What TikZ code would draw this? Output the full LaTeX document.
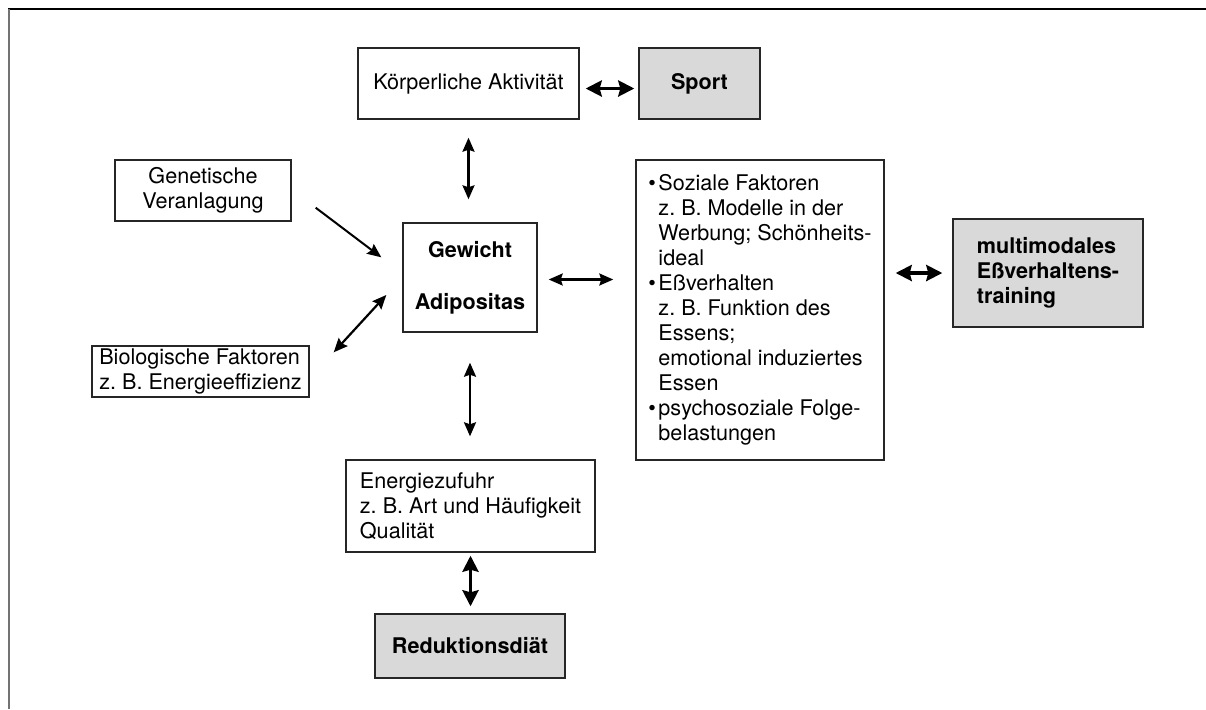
\documentclass[tikz,border=0pt]{standalone}
\usepackage{fontspec}
\setmainfont{TeX Gyre Heros}
\usetikzlibrary{arrows.meta}
\definecolor{kastengrau}{gray}{0.85}
\frenchspacing
\newcommand\punkt{\makebox[5pt][l]{\textbullet}}
\newcommand\einzug{\hspace*{5pt}}
\tikzset{
  kasten/.style={draw=black!85, line width=0.7pt, inner sep=0pt,
    font=\fontsize{10.8}{12.5}\selectfont},
  mitte/.style={kasten, align=center},
  links/.style={kasten, align=left},
  fett/.style={font=\bfseries\fontsize{10.8}{12.5}\selectfont},
  grau/.style={fill=kastengrau},
  pfeil/.style={line width=1.1pt,
    {Stealth[length=7pt,width=6pt,inset=1pt]}-{Stealth[length=7pt,width=6pt,inset=1pt]}},
  dickpfeil/.style={line width=1.8pt,
    {Stealth[length=8pt,width=8pt,inset=1pt]}-{Stealth[length=8pt,width=8pt,inset=1pt]}},
  einpfeil/.style={line width=1pt, -{Stealth[length=7pt,width=6pt,inset=1pt]}}
}
\begin{document}
\begin{tikzpicture}[x=0.5pt,y=-0.5pt]
\useasboundingbox (0,0) rectangle (1206,709);
% Rahmen
\draw[line width=1pt] (8,9)--(1206,9);
\draw[black!55, line width=1.2pt] (9,9)--(9,709);
% Kaesten
\node[mitte, minimum width=110.5pt, minimum height=35.5pt] (koerper) at (468.5,83.5) {Körperliche Aktivität};
\node[mitte, grau, fett, minimum width=60.5pt, minimum height=35.5pt] (sport) at (699.5,83.5) {Sport};
\node[mitte, minimum width=88pt, minimum height=30.5pt] (genetik) at (203,190.5) {Genetische\\Veranlagung};
\node[links, minimum width=108.5pt, minimum height=25.5pt] (bio) at (200.5,371.5) {Biologische Faktoren\\z. B. Energieeffizienz};
\node[mitte, fett, minimum width=67pt, minimum height=54.5pt] (gewicht) at (470,277.5) {Gewicht\\[13.5pt]Adipositas};
\node[links, minimum width=124pt, minimum height=150pt] (faktoren) at (760,310)
  {\punkt Soziale Faktoren\\\einzug z. B. Modelle in der\\\einzug Werbung; Schönheits-\\\einzug ideal\\
   \punkt Eßverhalten\\\einzug z. B. Funktion des\\\einzug Essens;\\\einzug emotional induziertes\\\einzug Essen\\
   \punkt psychosoziale Folge-\\\einzug belastungen};
\node[links, grau, fett, minimum width=95pt, minimum height=54pt] (training) at (1048,273) {multimodales\\Eßverhaltens-\\training};
\node[links, minimum width=124.5pt, minimum height=46pt] (energie) at (470.5,506) {Energiezufuhr\\z. B. Art und Häufigkeit\\Qualität};
\node[mitte, grau, fett, minimum width=95pt, minimum height=32pt] (diaet) at (470,646) {Reduktionsdiät};
% Pfeile
\draw[dickpfeil, shorten <=3pt, shorten >=2pt] ([yshift=-2.5pt]koerper.east) -- ([yshift=-2.5pt]sport.west);
\draw[pfeil, shorten <=9pt, shorten >=11.5pt] (koerper.south) -- (koerper.south |- gewicht.north);
\draw[einpfeil] ([shift={(24,-14)}]genetik.south east) -- ([shift={(-21,35)}]gewicht.north west);
\draw[pfeil] ([shift={(24,7)}]bio.north east) -- ([shift={(-16,17.5)}]gewicht.west);
\draw[pfeil, shorten <=5.5pt, shorten >=11pt] ([yshift=-1pt]gewicht.east) -- ([yshift=-1pt]gewicht.east -| faktoren.west);
\draw[dickpfeil, shorten <=5.5pt, shorten >=5pt] (training.west -| faktoren.east) -- (training.west);
\draw[pfeil, shorten <=15pt, shorten >=11.5pt] (gewicht.south) -- (gewicht.south |- energie.north);
\draw[dickpfeil, shorten <=1.5pt, shorten >=3.5pt] (energie.south) -- (energie.south |- diaet.north);
\end{tikzpicture}
\end{document}
